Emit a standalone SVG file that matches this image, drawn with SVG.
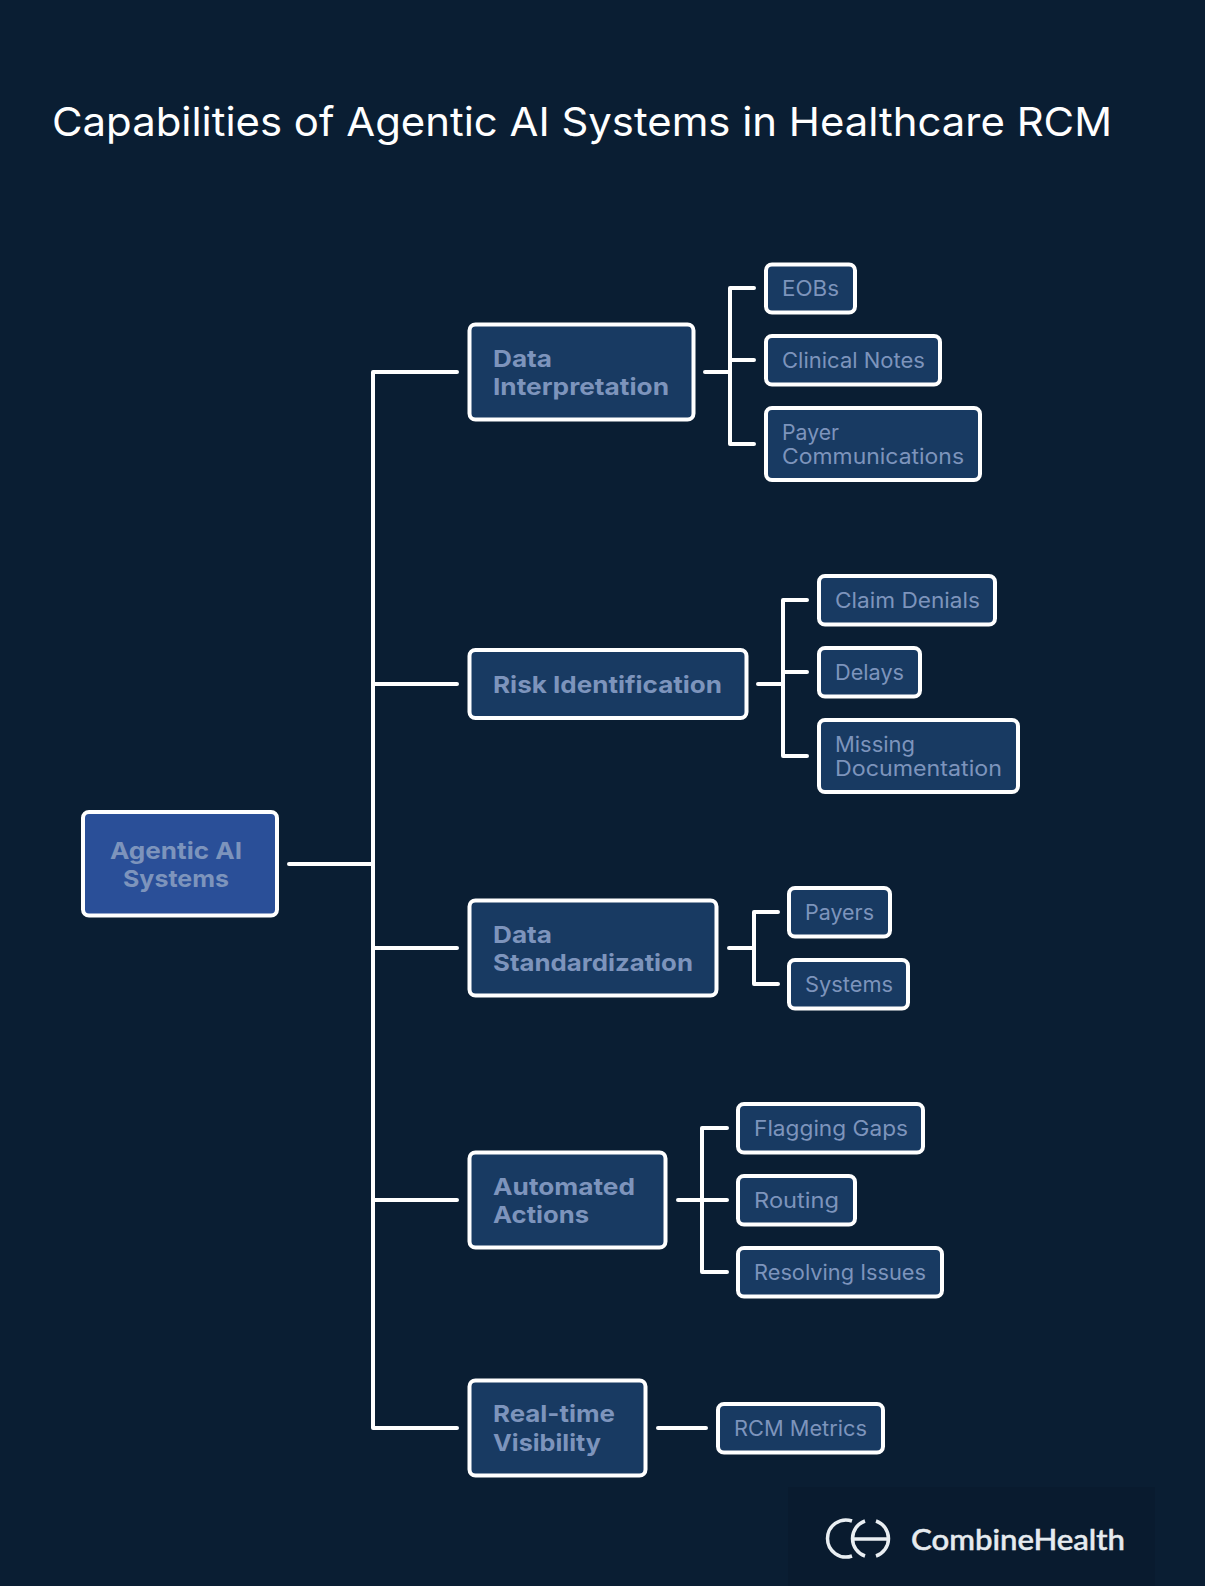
<svg xmlns="http://www.w3.org/2000/svg" width="1205" height="1586" viewBox="0 0 1205 1586">
<style>
text{font-family:"Inter","Open Sans","Liberation Sans",sans-serif}
.box{stroke:#fff;stroke-width:4;fill:#183a62}
.root{fill:#2a4f98}
.b{font-size:23.5px;font-weight:700;fill:#7d94bc}
.l{font-size:21px;font-weight:400;fill:#7d94bc}
.c{fill:none;stroke:#fff;stroke-width:4;stroke-linecap:round}
</style>
<rect width="1205" height="1586" fill="#0a1e33"/>
<rect id="logo-bg" x="788" y="1487" width="367" height="99" fill="#091b2f"/>
<text id="title" x="52" y="136" font-size="40" fill="#fff" textLength="1060" lengthAdjust="spacingAndGlyphs">Capabilities of Agentic AI Systems in Healthcare RCM</text>
<g id="connectors" class="c">
<path class="c" d="M289 864H373M373 372V1428M373 372H457M373 684H457M373 948H457M373 1200H457M373 1428H457"/>
<path class="c" d="M705 372H730M730 288V444M730 288H754M730 360H754M730 444H754"/>
<path class="c" d="M758 684H783M783 600V756M783 600H807M783 672H807M783 756H807"/>
<path class="c" d="M729 948H754M754 912V984M754 912H778M754 984H778"/>
<path class="c" d="M678 1200H702M702 1128V1272M702 1128H727M702 1200H727M702 1272H727"/>
<path class="c" d="M658 1428H706"/>
</g>
<g id="root"><rect class="box root" x="83" y="812" width="194" height="103.500" rx="6"/>
<text class="b" x="176" y="859" text-anchor="middle" textLength="132" lengthAdjust="spacingAndGlyphs">Agentic AI</text><text class="b" x="176" y="887" text-anchor="middle" textLength="106" lengthAdjust="spacingAndGlyphs">Systems</text></g>
<g id="n1"><rect class="box" x="469.500" y="324.500" width="224" height="95" rx="6"/>
<text class="b" x="493" y="367" textLength="59" lengthAdjust="spacingAndGlyphs">Data</text><text class="b" x="493" y="395" textLength="176" lengthAdjust="spacingAndGlyphs">Interpretation</text></g>
<g id="n1a"><rect class="box" x="766" y="264.500" width="89" height="48" rx="6"/><text class="l" x="782" y="296" textLength="57" lengthAdjust="spacingAndGlyphs">EOBs</text></g>
<g id="n1b"><rect class="box" x="766" y="336" width="174" height="48.500" rx="6"/><text class="l" x="782" y="368" textLength="143" lengthAdjust="spacingAndGlyphs">Clinical Notes</text></g>
<g id="n1c"><rect class="box" x="766" y="408" width="214" height="72" rx="6"/><text class="l" x="782" y="440" textLength="57" lengthAdjust="spacingAndGlyphs">Payer</text><text class="l" x="782" y="464" textLength="182" lengthAdjust="spacingAndGlyphs">Communications</text></g>
<g id="n2"><rect class="box" x="469.500" y="650" width="277" height="68" rx="6"/><text class="b" x="493" y="693" textLength="229" lengthAdjust="spacingAndGlyphs">Risk Identification</text></g>
<g id="n2a"><rect class="box" x="819" y="576" width="176" height="48.500" rx="6"/><text class="l" x="835" y="608" textLength="145" lengthAdjust="spacingAndGlyphs">Claim Denials</text></g>
<g id="n2b"><rect class="box" x="819" y="648" width="101" height="48.500" rx="6"/><text class="l" x="835" y="680" textLength="69" lengthAdjust="spacingAndGlyphs">Delays</text></g>
<g id="n2c"><rect class="box" x="819" y="720" width="199" height="72" rx="6"/><text class="l" x="835" y="752" textLength="80" lengthAdjust="spacingAndGlyphs">Missing</text><text class="l" x="835" y="776" textLength="167" lengthAdjust="spacingAndGlyphs">Documentation</text></g>
<g id="n3"><rect class="box" x="469.500" y="900.500" width="247" height="95" rx="6"/><text class="b" x="493" y="943" textLength="59" lengthAdjust="spacingAndGlyphs">Data</text><text class="b" x="493" y="971" textLength="200" lengthAdjust="spacingAndGlyphs">Standardization</text></g>
<g id="n3a"><rect class="box" x="789" y="888" width="101" height="48.500" rx="6"/><text class="l" x="805" y="920" textLength="69" lengthAdjust="spacingAndGlyphs">Payers</text></g>
<g id="n3b"><rect class="box" x="789" y="960" width="119" height="48.500" rx="6"/><text class="l" x="805" y="992" textLength="88" lengthAdjust="spacingAndGlyphs">Systems</text></g>
<g id="n4"><rect class="box" x="469.500" y="1152.500" width="196" height="95" rx="6"/><text class="b" x="493" y="1195" textLength="142" lengthAdjust="spacingAndGlyphs">Automated</text><text class="b" x="493" y="1223" textLength="96" lengthAdjust="spacingAndGlyphs">Actions</text></g>
<g id="n4a"><rect class="box" x="738" y="1104" width="185" height="48.500" rx="6"/><text class="l" x="754" y="1136" textLength="154" lengthAdjust="spacingAndGlyphs">Flagging Gaps</text></g>
<g id="n4b"><rect class="box" x="738" y="1176" width="117" height="48.500" rx="6"/><text class="l" x="754" y="1208" textLength="85" lengthAdjust="spacingAndGlyphs">Routing</text></g>
<g id="n4c"><rect class="box" x="738" y="1248" width="204" height="48.500" rx="6"/><text class="l" x="754" y="1280" textLength="172" lengthAdjust="spacingAndGlyphs">Resolving Issues</text></g>
<g id="n5"><rect class="box" x="469.500" y="1380.500" width="176" height="95" rx="6"/><text class="b" x="493" y="1422" textLength="122" lengthAdjust="spacingAndGlyphs">Real-time</text><text class="b" x="493" y="1451" textLength="108" lengthAdjust="spacingAndGlyphs">Visibility</text></g>
<g id="n5a"><rect class="box" x="718" y="1404" width="165" height="48.500" rx="6"/><text class="l" x="734" y="1436" textLength="133" lengthAdjust="spacingAndGlyphs">RCM Metrics</text></g>
<g id="logo" fill="none" stroke="#e9eef2" stroke-width="3.500">
<path d="M852 1521A18.500 18.500 0 1 0 852 1556"/>
<path d="M865 1521A18.500 18.500 0 0 0 865 1556M876 1521A18.500 18.500 0 0 1 876 1556M853 1539H888"/>
</g>
<text id="logotext" x="911" y="1550" font-size="29" font-weight="500" fill="#e6ebef" stroke="#e6ebef" stroke-width=".5" textLength="214" lengthAdjust="spacingAndGlyphs" style="font-family:Lato,Inter,sans-serif">CombineHealth</text>
</svg>
